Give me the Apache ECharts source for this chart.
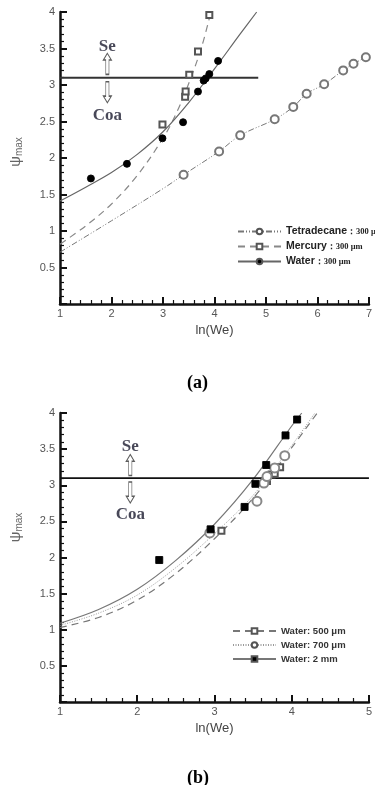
<!DOCTYPE html>
<html><head><meta charset="utf-8">
<script src="https://cdn.jsdelivr.net/npm/echarts@6/dist/echarts.min.js"></script>
<style>html,body{margin:0;padding:0;background:#fff}#c{width:375px;height:785px}</style>
</head><body><div id="c"></div>
<script>
// ---- Chart (a) data ----
const tetraA = [[3.40,1.77],[4.09,2.09],[4.50,2.31],[5.17,2.53],[5.53,2.70],[5.79,2.88],[6.13,3.01],[6.50,3.20],[6.70,3.29],[6.94,3.38]];
const mercuryA = [[2.99,2.46],[3.43,2.84],[3.44,2.91],[3.51,3.14],[3.68,3.46],[3.90,3.96]];
const waterA = [[1.60,1.72],[2.30,1.92],[2.99,2.27],[3.39,2.49],[3.68,2.91],[3.79,3.06],[3.83,3.09],[3.90,3.15],[4.07,3.33]];
const tetraFitA = [[1,0.71],[2,1.14],[3,1.58],[3.40,1.77],[4.09,2.09],[4.50,2.31],[5.17,2.53],[5.53,2.70],[5.79,2.88],[6.13,3.01],[6.50,3.20],[6.70,3.29],[6.94,3.38]];
const mercuryFitA = [[1,0.82],[1.5,1.07],[2,1.37],[2.5,1.76],[3,2.27],[3.25,2.60],[3.5,3.02],[3.75,3.52],[3.93,4.0]];
const waterFitA = [[1,1.41],[1.5,1.60],[2,1.80],[2.5,2.05],[3,2.36],[3.5,2.76],[4,3.22],[4.5,3.70],[4.82,4.0]];
const limitA = [[1,3.1],[4.85,3.1]];
// ---- Chart (b) data ----
const w500 = [[3.09,2.37],[3.68,3.06],[3.74,3.15],[3.78,3.16],[3.85,3.25]];
const w700 = [[2.94,2.34],[3.55,2.78],[3.64,3.03],[3.68,3.12],[3.78,3.24],[3.91,3.41]];
const w2mm = [[2.285,1.965],[2.95,2.39],[3.39,2.70],[3.53,3.02],[3.67,3.28],[3.92,3.69],[4.07,3.91]];
const fit500 = [[1,1.03],[1.5,1.17],[2,1.41],[2.5,1.78],[3,2.26],[3.5,2.82],[4,3.52],[4.33,4.0]];
const fit700 = [[1,1.06],[1.5,1.23],[2,1.48],[2.5,1.86],[3,2.33],[3.5,2.86],[4,3.55],[4.3,4.0]];
const fit2mm = [[1,1.09],[1.5,1.28],[2,1.56],[2.5,1.96],[3,2.46],[3.5,3.08],[4,3.82],[4.13,4.0]];
const limitB = [[1,3.1],[5,3.1]];
// ---- annotation anchors ----
const seA = [[1.92,3.52]], upA = [[1.92,3.29]], downA = [[1.92,2.90]], coaA = [[1.92,2.58]];
const seB = [[1.91,3.54]], upB = [[1.91,3.28]], downB = [[1.91,2.90]], coaB = [[1.91,2.59]];
const legendA = ['Tetradecane','Mercury','Water'];
const legendB = ['Water: 500 μm','Water: 700 μm','Water: 2 mm'];

const chart = echarts.init(document.getElementById('c'));
const SANS = 'Liberation Sans, Arial, sans-serif';
const SERIF = 'Liberation Serif, Times New Roman, serif';
function xAx(gi, max){
  return {gridIndex: gi, type:'value', min:1, max:max, interval:1,
    name:'ln(We)', nameLocation:'middle', nameGap:20,
    nameTextStyle:{color:'#444', fontSize:13, fontFamily:SANS},
    axisLine:{show:true, lineStyle:{color:'#111', width:2.5}},
    axisTick:{show:true, inside:true, length:7, lineStyle:{color:'#111', width:2}},
    minorTick:{show:true, splitNumber:5, length:4, lineStyle:{color:'#111', width:1.2}},
    axisLabel:{color:'#555', fontSize:11, fontFamily:SANS, margin:4},
    splitLine:{show:false}};
}
function yAx(gi, pad){
  return {gridIndex: gi, type:'value', min:0, max:4, interval:0.5,
    name:'{p|ψ}{s|max}', nameLocation:'middle', nameGap:36, nameRotate:90,
    nameTextStyle:{color:'#666', padding:[0,0,0,pad], rich:{p:{fontSize:15, color:'#666', fontFamily:SANS}, s:{fontSize:10, color:'#666', fontFamily:SANS, verticalAlign:'bottom', padding:[7,0,0,0]}}},
    axisLine:{show:true, onZero:false, lineStyle:{color:'#111', width:2.5}},
    axisTick:{show:true, inside:true, length:7, lineStyle:{color:'#111', width:2}},
    minorTick:{show:true, splitNumber:5, length:4, lineStyle:{color:'#111', width:1.2}},
    axisLabel:{color:'#555', fontSize:11, fontFamily:SANS, margin:5, formatter:v => v===0 ? '' : String(v)},
    splitLine:{show:false}};
}
const arrowPath = 'path://M5,0 L10,7 L7,7 L7,22 L3,22 L3,7 L0,7 Z';
function txt(gi, data, t){
  return {type:'scatter', xAxisIndex:gi, yAxisIndex:gi, data:data, symbolSize:1, silent:true,
    itemStyle:{color:'rgba(0,0,0,0)'},
    label:{show:true, position:'inside', formatter:t, color:'#1a1a2e', fontFamily:SERIF, fontWeight:'bold', fontSize:17}};
}
function arrow(gi, data, rot){
  return {type:'scatter', xAxisIndex:gi, yAxisIndex:gi, data:data, symbol:arrowPath, symbolSize:[8,21], symbolRotate:rot, silent:true,
    itemStyle:{color:'#fff', borderColor:'#333', borderWidth:1}};
}
function fit(gi, name, data, sym, lc, lt, lw){
  return {type:'line', name:name, xAxisIndex:gi, yAxisIndex:gi, data:data, smooth:0.35, showSymbol:false,
    symbol:sym, symbolSize:7, itemStyle:{color: sym.indexOf('empty')===0 ? '#555' : '#000', borderColor:'#555', borderWidth:1},
    lineStyle:{color:lc, type:lt, width:lw}, z:2};
}
function pts(gi, name, data, sym, size, col){
  return {type:'scatter', name:name, xAxisIndex:gi, yAxisIndex:gi, data:data, symbol:sym, symbolSize:size,
    itemStyle:{color:col, borderColor:col, borderWidth:0.9, opacity:1}, z:3};
}
const option = {
  animation:false,
  title:[
    {text:'(a)', left:182, top:369, textStyle:{fontFamily:SERIF, fontWeight:'bold', fontSize:18, color:'#000'}},
    {text:'(b)', left:182, top:764, textStyle:{fontFamily:SERIF, fontWeight:'bold', fontSize:18, color:'#000'}}
  ],
  grid:[
    {left:55, top:12, width:319, height:292},
    {left:52, top:413, width:318, height:289}
  ],
  xAxis:[xAx(0,7), xAx(1,5)],
  yAxis:[yAx(0,12), yAx(1,60)],
  legend:[
    {data:legendA, orient:'vertical', left:237, top:226, itemWidth:43, itemHeight:7, itemGap:4, padding:0,
     formatter: n => '{a|'+n+'}{b|：300 μm}',
     textStyle:{rich:{a:{fontFamily:SANS, fontWeight:'bold', fontSize:10.5, color:'#222'}, b:{fontFamily:SERIF, fontWeight:'bold', fontSize:8.5, color:'#222'}}}},
    {data:legendB, orient:'vertical', left:232, top:626, itemWidth:43, itemHeight:7, itemGap:4, padding:0,
     textStyle:{fontFamily:SANS, fontWeight:'bold', fontSize:9.5, color:'#333'}}
  ],
  series:[
    {type:'line', xAxisIndex:0, yAxisIndex:0, data:limitA, showSymbol:false, lineStyle:{color:'#333', width:2}, silent:true},
    fit(0,'Tetradecane', tetraFitA, 'emptyCircle', '#777', [6,2,1,2,1,2], 1),
    fit(0,'Mercury', mercuryFitA, 'emptyRect', '#888', [7,5], 1.2),
    fit(0,'Water', waterFitA, 'circle', '#666', 'solid', 1.2),
    pts(0,'Tetradecane', tetraA, 'emptyCircle', 8, '#777'),
    pts(0,'Mercury', mercuryA, 'emptyRect', 6, '#555'),
    pts(0,'Water', waterA, 'circle', 7, '#000'),
    txt(0, seA, 'Se'), arrow(0, upA, 0), arrow(0, downA, 180), txt(0, coaA, 'Coa'),

    {type:'line', xAxisIndex:1, yAxisIndex:1, data:limitB, showSymbol:false, lineStyle:{color:'#111', width:1.8}, silent:true},
    fit(1,'Water: 500 μm', fit500, 'emptyRect', '#777', [7,5], 1.2),
    fit(1,'Water: 700 μm', fit700, 'emptyCircle', '#999', [1,1.5], 1),
    fit(1,'Water: 2 mm', fit2mm, 'rect', '#777', 'solid', 1.2),
    pts(1,'Water: 500 μm', w500, 'emptyRect', 6, '#555'),
    pts(1,'Water: 700 μm', w700, 'emptyCircle', 9, '#888'),
    pts(1,'Water: 2 mm', w2mm, 'rect', 7, '#000'),
    txt(1, seB, 'Se'), arrow(1, upB, 0), arrow(1, downB, 180), txt(1, coaB, 'Coa')
  ]
};
chart.setOption(option);
</script></body></html>
